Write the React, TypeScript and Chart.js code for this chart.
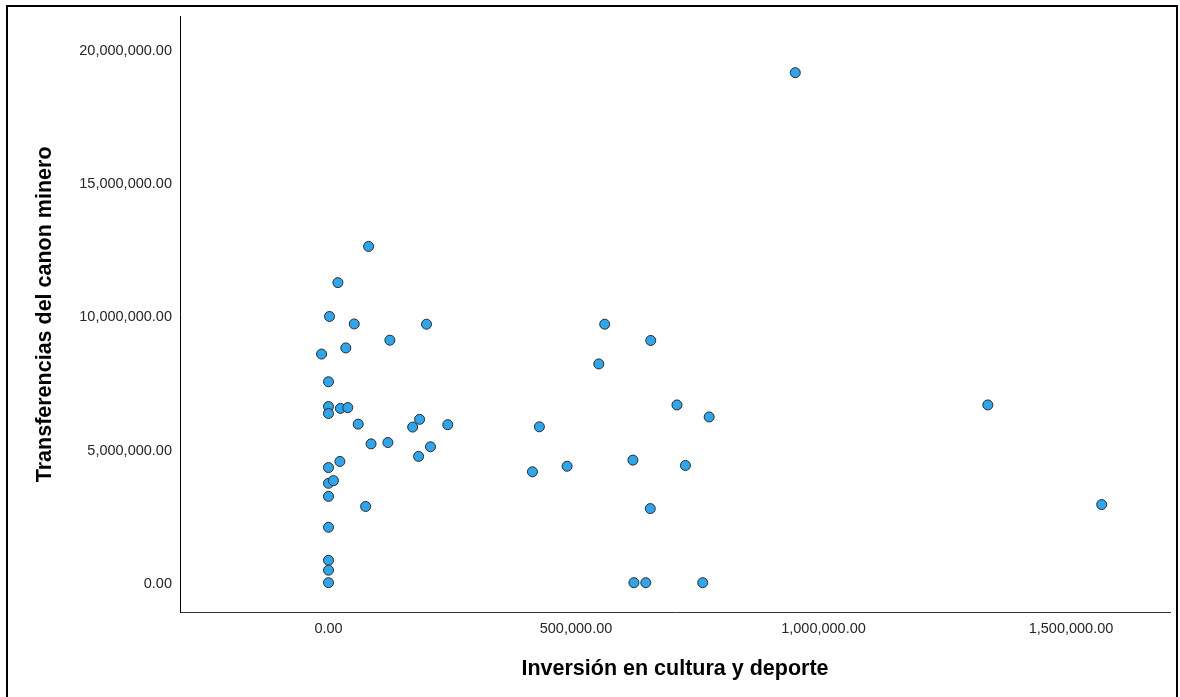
import React, { useEffect, useRef } from "react";
import { Chart, registerables } from "chart.js";

Chart.register(...registerables);

// Inversión en cultura y deporte (x)
const inversionCulturaDeporte = [
  2000, 0, 0, 0, 0, 0, 0, 0, 0, 0, 0,
  -14000, 19000, 52000, 81000, 35000, 24000, 39000, 60000, 124000, 198000,
  184000, 170000, 241000, 86000, 120000, 206000, 182000, 23000, 10000, 75000,
  558000, 651000, 546000, 704000, 769000, 426000, 412000, 482000, 615000, 721000,
  650000, 617000, 641000, 756000, 943000, 1332000, 1562000,
];

// Transferencias del canon minero (y)
const transferenciasCanon = [
  10030000, 7580000, 6650000, 6390000, 4360000, 3770000, 3280000, 2120000, 880000, 510000, 40000,
  8620000, 11300000, 9750000, 12660000, 8850000, 6580000, 6610000, 5990000, 9140000, 9740000,
  6170000, 5880000, 5970000, 5250000, 5300000, 5140000, 4780000, 4590000, 3870000, 2900000,
  9740000, 9130000, 8250000, 6710000, 6260000, 5890000, 4200000, 4410000, 4640000, 4440000,
  2820000, 40000, 40000, 40000, 19180000, 6710000, 2970000,
];

const xTickValues = [0, 500000, 1000000, 1500000];
const yTickValues = [0, 5000000, 10000000, 15000000, 20000000];
const xAxisTitle = "Inversión en cultura y deporte";
const yAxisTitle = "Transferencias del canon minero";

const fmt = (v: number) =>
  v.toLocaleString("en-US", { minimumFractionDigits: 2, maximumFractionDigits: 2 });

export default function App() {
  const canvasRef = useRef<HTMLCanvasElement | null>(null);

  useEffect(() => {
    if (!canvasRef.current) return;
    const points = inversionCulturaDeporte.map((x, i) => ({ x, y: transferenciasCanon[i] }));
    const tickFont = { family: "'Liberation Sans', Arial, sans-serif", size: 14.5 };
    const titleFont = { family: "'Liberation Sans', Arial, sans-serif", size: 21.5, weight: "bold" as const };
    const chart = new Chart(canvasRef.current, {
      type: "scatter",
      data: {
        datasets: [
          {
            data: points,
            pointRadius: 5,
            pointHoverRadius: 5,
            pointBackgroundColor: "#2ea6ee",
            pointBorderColor: "#2a2a2a",
            pointBorderWidth: 1,
          },
        ],
      },
      options: {
        animation: false,
        responsive: false,
        devicePixelRatio: 1,
        layout: { padding: { left: 0, top: 15, right: 10, bottom: 0 } },
        plugins: { legend: { display: false }, tooltip: { enabled: false } },
        scales: {
          x: {
            type: "linear",
            min: -300000,
            max: 1700000,
            afterBuildTicks: (scale: any) => {
              scale.ticks = xTickValues.map((v) => ({ value: v }));
            },
            afterFit: (scale: any) => {
              scale.height = 85;
            },
            grid: { display: false, drawTicks: false },
            border: { display: true, color: "#333333", width: 1 },
            ticks: {
              padding: 8,
              color: "#262626",
              font: tickFont,
              maxRotation: 0,
              autoSkip: false,
              callback: (v: any) => fmt(Number(v)),
            },
            title: {
              display: true,
              text: xAxisTitle,
              color: "#000000",
              font: titleFont,
              padding: { top: 0, bottom: 15 },
            },
          },
          y: {
            type: "linear",
            min: -1060000,
            max: 21280000,
            afterBuildTicks: (scale: any) => {
              scale.ticks = yTickValues.map((v) => ({ value: v }));
            },
            afterFit: (scale: any) => {
              scale.width = 180;
            },
            grid: { display: false, drawTicks: false },
            border: { display: true, color: "#000000", width: 1 },
            ticks: {
              padding: 8,
              color: "#262626",
              font: tickFont,
              autoSkip: false,
              callback: (v: any) => fmt(Number(v)),
            },
            title: {
              display: true,
              text: yAxisTitle,
              color: "#000000",
              font: titleFont,
              padding: { top: 32, bottom: 0 },
            },
          },
        },
      },
    });
    return () => chart.destroy();
  }, []);

  return (
    <div
      style={{
        position: "absolute",
        left: 0,
        top: 0,
        width: 1180,
        height: 697,
        overflow: "hidden",
        background: "#ffffff",
      }}
    >
      <div
        style={{
          position: "absolute",
          left: 6,
          top: 5,
          width: 1172,
          height: 760,
          border: "2px solid #000000",
          boxSizing: "border-box",
        }}
      />
      <canvas
        ref={canvasRef}
        width={1180}
        height={697}
        style={{ position: "absolute", left: 0, top: 0, width: 1180, height: 697 }}
      />
    </div>
  );
}
